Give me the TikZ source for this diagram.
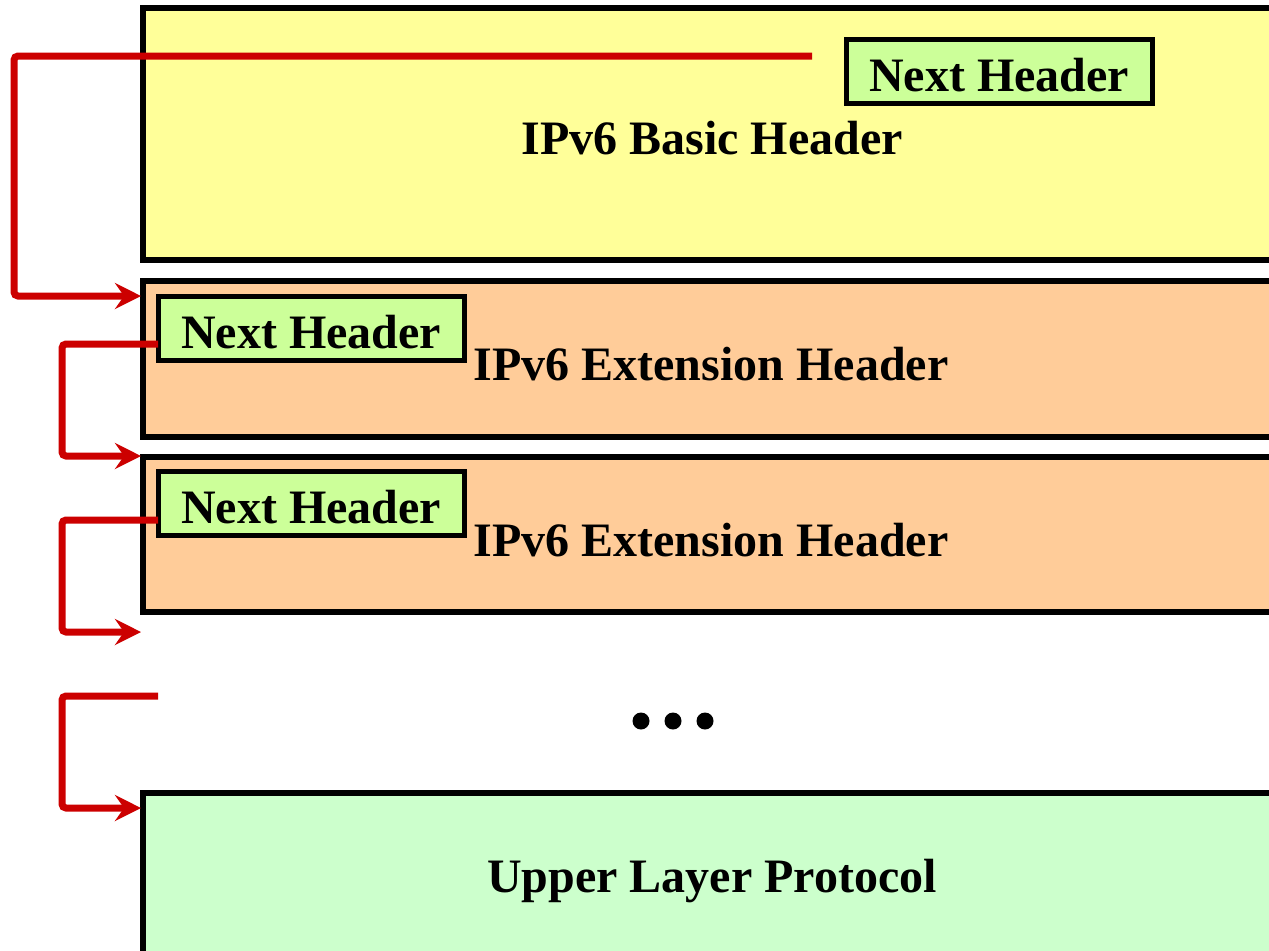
\documentclass[tikz,border=0pt]{standalone}
\usepackage{fontspec}
\setmainfont{Liberation Serif}
\usetikzlibrary{arrows.meta}
\definecolor{basicY}{HTML}{FFFF99}
\definecolor{extO}{HTML}{FFCC99}
\definecolor{upperG}{HTML}{CCFFCC}
\definecolor{nhG}{HTML}{CCFF99}
\definecolor{linkR}{HTML}{CC0000}
\tikzset{
  layer/.style={draw=black, line width=3pt, inner sep=0pt, minimum width=578.5pt},
  nhbox/.style={draw=black, line width=2.5pt, fill=nhG, inner sep=0pt, minimum width=153pt, minimum height=32pt, text height=20pt, text depth=0pt, font=\fontsize{24}{28}\selectfont\bfseries},
  lbl/.style={font=\fontsize{24}{28}\selectfont\bfseries, inner sep=0pt},
  link/.style={draw=linkR, line width=3.5pt, rounded corners=2pt, -{Stealth[length=13pt,width=13pt,inset=4.5pt]}},
  dot/.style={circle, fill=black, inner sep=0pt, minimum size=8.5pt}
}
\begin{document}
\begin{tikzpicture}[x=0.5pt,y=-0.5pt]
\useasboundingbox (0,0) rectangle (1269,950);
\clip (0,0) rectangle (1269,950);
% layers
\node[layer, fill=basicY, minimum height=126pt] (basic) at (721.5,134) {};
\node[layer, fill=extO, minimum height=78pt] (ext1) at (721.5,359) {};
\node[layer, fill=extO, minimum height=77.5pt] (ext2) at (721.5,534.5) {};
\node[layer, fill=upperG, minimum height=103.5pt] (upper) at (721.5,896.5) {};
% labels
\node[lbl] (basiclbl) at (712,138) {IPv6 Basic Header};
\node[lbl] (ext1lbl) at (711,364) {IPv6 Extension Header};
\node[lbl] (ext2lbl) at (711,540) {IPv6 Extension Header};
\node[lbl, anchor=base] (upperlbl) at (712,892) {Upper Layer Protocol};
% next header boxes
\node[nhbox] (nh0) at (999,71.5) {Next Header};
\node[nhbox] (nh1) at (311,328) {Next Header};
\node[nhbox] (nh2) at (311,503.5) {Next Header};
% dots
\node[dot] (d1) at (641,721) {};
\node[dot] (d2) at (673,721) {};
\node[dot] (d3) at (705,721) {};
% link endpoints
\coordinate (s0) at (812,56);
\coordinate (s1) at (158,344);
\coordinate (s2) at (158,520);
\coordinate (s3) at (158,696);
\coordinate (a0) at (141,296);
\coordinate (a1) at (141,456);
\coordinate (a2) at (141,632);
\coordinate (a3) at (141,808);
% links
\draw[link] (s0) -- (14,56) -- (14,296) -- (a0);
\draw[link] (s1) -- (62,344) -- (62,456) -- (a1);
\draw[link] (s2) -- (62,520) -- (62,632) -- (a2);
\draw[link] (s3) -- (62,696) -- (62,808) -- (a3);
\end{tikzpicture}
\end{document}
